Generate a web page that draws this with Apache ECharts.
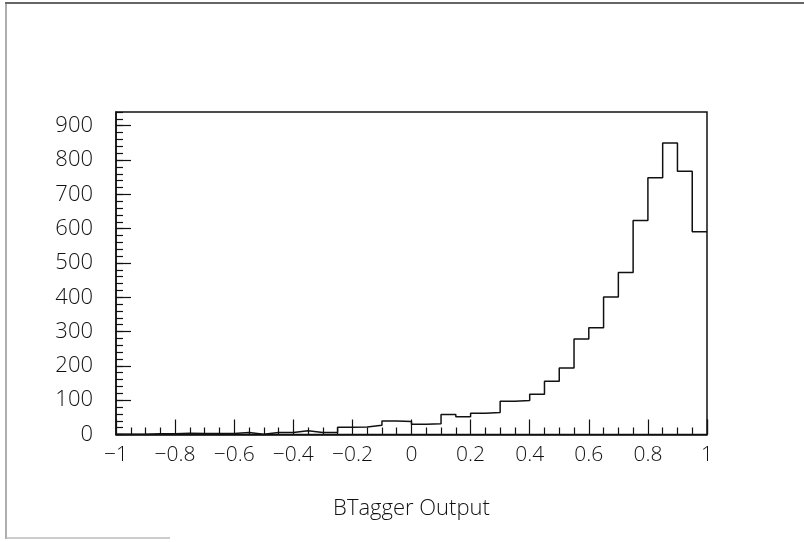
<!DOCTYPE html>
<html>
<head>
<meta charset="utf-8">
<title>BTagger Output</title>
<script src="https://cdn.jsdelivr.net/npm/echarts@6/dist/echarts.min.js"></script>
<style>
  html, body { margin: 0; padding: 0; background: #fff; }
  #chart { width: 804px; height: 542px; }
</style>
</head>
<body>
<div id="chart"></div>
<script>
// Histogram of the b-tagger discriminant, 40 bins of width 0.05 on [-1, 1]
const binLow = -1;
const binWidth = 0.05;
const counts = [
  1, 1, 2, 2, 4, 3, 3, 3, 6, 1,
  6, 6, 11, 6, 6, 21, 22, 27, 39, 38,
  30, 31, 58, 52, 62, 64, 97, 99, 117, 155,
  194, 278, 311, 401, 472, 624, 748, 850, 767, 591
];
const xTicks = [-1, -0.8, -0.6, -0.4, -0.2, 0, 0.2, 0.4, 0.6, 0.8, 1];
const yTicks = [0, 100, 200, 300, 400, 500, 600, 700, 800, 900];
const yMax = 940;

// Step outline: one point at each bin's low edge, plus the closing edge
const stepPoints = counts.map((c, i) => [+(binLow + i * binWidth).toFixed(3), c]);
stepPoints.push([+(binLow + counts.length * binWidth).toFixed(3), counts[counts.length - 1]]);

const FONT = "'Open Sans', 'Liberation Sans', sans-serif";
const INK = '#111';

const fmtX = v => String(+v.toFixed(2)).replace('-', '\u2212');

const chart = echarts.init(document.getElementById('chart'), null, { renderer: 'canvas' });
chart.setOption({
  animation: false,
  backgroundColor: '#fff',
  grid: {
    left: 116, right: 97, top: 112, bottom: 107.5,
    show: true, borderColor: INK, borderWidth: 1.5, backgroundColor: 'transparent'
  },
  xAxis: {
    type: 'value',
    min: xTicks[0], max: xTicks[xTicks.length - 1],
    interval: xTicks[1] - xTicks[0],
    axisLine: { show: true, onZero: false, lineStyle: { color: INK, width: 1.5 } },
    axisTick: { show: true, inside: true, length: 15, lineStyle: { color: INK, width: 1.2 } },
    minorTick: { show: true, splitNumber: 4, length: 7, lineStyle: { color: INK, width: 1.2 } },
    splitLine: { show: false },
    axisLabel: {
      show: true, margin: 10, fontSize: 21, fontFamily: FONT, color: INK, fontWeight: 300,
      formatter: fmtX
    },
    name: 'BTagger Output',
    nameLocation: 'middle',
    nameGap: 63,
    nameTextStyle: { fontSize: 22, fontFamily: FONT, color: INK, fontWeight: 300 }
  },
  yAxis: [
    {
      type: 'value',
      min: yTicks[0], max: yMax,
      interval: yTicks[1] - yTicks[0],
      axisLine: { show: true, onZero: false, lineStyle: { color: INK, width: 1.5 } },
      axisTick: { show: true, inside: true, length: 15, lineStyle: { color: INK, width: 1.2 } },
      splitLine: { show: false },
      axisLabel: {
        show: true, margin: 23, fontSize: 22, fontFamily: FONT, color: INK, fontWeight: 300,
        showMaxLabel: false,
        formatter: v => (yTicks.indexOf(v) >= 0 ? String(v) : '')
      }
    },
    {
      // finer ticks every 20 counts
      type: 'value',
      position: 'left',
      min: yTicks[0], max: yMax,
      interval: 20,
      axisLine: { show: false, onZero: false },
      axisTick: { show: true, inside: true, length: 7, lineStyle: { color: INK, width: 1.2 } },
      splitLine: { show: false },
      axisLabel: { show: false }
    }
  ],
  series: [{
    type: 'line',
    xAxisIndex: 0,
    yAxisIndex: 0,
    step: 'end',
    data: stepPoints,
    showSymbol: false,
    symbol: 'none',
    lineStyle: { color: '#111', width: 1.5 },
    z: 3
  }],
  graphic: [
    { type: 'line', shape: { x1: 5, y1: 3, x2: 804, y2: 3 }, style: { stroke: '#333', lineWidth: 1.5 } },
    { type: 'line', shape: { x1: 6, y1: 3, x2: 6, y2: 539 }, style: { stroke: '#777', lineWidth: 1.2 } },
    { type: 'line', shape: { x1: 6, y1: 538, x2: 170, y2: 538 }, style: { stroke: '#bbb', lineWidth: 1.5 } }
  ]
});
</script>
</body>
</html>
